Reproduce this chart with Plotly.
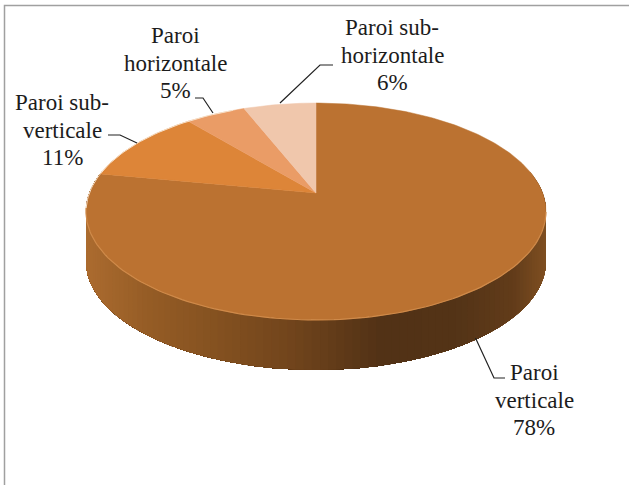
import numpy as np
import plotly.graph_objects as go

# Data
CATEGORIES = ["Paroi verticale", "Paroi sub-verticale", "Paroi horizontale", "Paroi sub-horizontale"]
VALUES = [78, 11, 5, 6]
LABEL_LINES = [["Paroi", "verticale", "78%"], ["Paroi sub-", "verticale", "11%"],
               ["Paroi", "horizontale", "5%"], ["Paroi sub-", "horizontale", "6%"]]
COLORS = ["#bb7231", "#dd8538", "#ea9c66", "#f0c7ac"]

W, H = 629, 485
CX, CY = 316, 193
A, B, K = 226.6, 105.3, 0.1705
DEPTH = 50
FONT = "Liberation Serif"
LINE_GAP = 27.5


def rim(theta):
    u, v = np.sin(theta), np.cos(theta)
    d = 1 + K * v
    return CX + A * u / d, CY - B * v / d


fig = go.Figure()

# Side wall shading: each polygon runs to the far end so no seams show
stops_x = [87, 150, 230, 300, 385, 460, 515, 547]
stops_c = [(172, 108, 48), (150, 93, 38), (130, 80, 32), (112, 68, 28),
           (82, 50, 22), (84, 52, 23), (98, 60, 26), (128, 80, 34)]
ths = np.radians(np.linspace(78, 282, 120))
for i in range(len(ths) - 1):
    tt = ths[i:]
    x, y = rim(tt)
    px = list(x) + list(x[::-1])
    py = list(y) + list((y + DEPTH)[::-1])
    xm = x[0]
    c = [int(np.interp(xm, stops_x, [s[j] for s in stops_c])) for j in range(3)]
    col = f"rgb({c[0]},{c[1]},{c[2]})"
    fig.add_trace(go.Scatter(x=px, y=py, fill="toself", fillcolor=col, mode="none",
                             hoverinfo="skip", showlegend=False))

# Top wedges, clockwise from 12 o'clock
total = sum(VALUES)
start_angle = 0.0
for val, col, name in zip(VALUES, COLORS, CATEGORIES):
    sweep = 2 * np.pi * val / total
    tt = np.linspace(start_angle, start_angle + sweep, max(8, int(val * 4)))
    x, y = rim(tt)
    fig.add_trace(go.Scatter(x=[CX] + list(x) + [CX], y=[CY] + list(y) + [CY], fill="toself",
                             fillcolor=col, mode="lines", line=dict(color=col, width=0.5),
                             name=name, hoverinfo="name", showlegend=False))
    start_angle += sweep

# Bevel highlight along the rim
tt = np.radians(np.linspace(100, 262, 120))
x, y = rim(tt)
fig.add_trace(go.Scatter(x=x, y=y, mode="lines", line=dict(color="#cf8a4a", width=1.2),
                         hoverinfo="skip", showlegend=False))
tt = np.radians(np.linspace(262, 335, 50))
x, y = rim(tt)
fig.add_trace(go.Scatter(x=x, y=y, mode="lines", line=dict(color="#f7e0c8", width=1),
                         hoverinfo="skip", showlegend=False))

# Leader lines
LEADERS = [
    ([475.5, 494, 505], [338, 378, 378]),
    ([137, 120, 108], [143, 135, 135]),
    ([213, 203, 195], [113, 98, 98]),
    ([280, 320, 333], [103, 65, 65]),
]
for lx, ly in LEADERS:
    fig.add_trace(go.Scatter(x=lx, y=ly, mode="lines", line=dict(color="#222222", width=1.2),
                             hoverinfo="skip", showlegend=False))

# Labels: centre of the middle line
LABEL_POS = [(534, 400), (62, 130), (175, 63), (392, 55)]
for lines, (tx, ty) in zip(LABEL_LINES, LABEL_POS):
    for n, line in enumerate(lines):
        fig.add_annotation(x=tx, y=ty + (n - 1) * LINE_GAP, text=line, showarrow=False,
                           xref="x", yref="y", xanchor="center", yanchor="middle",
                           font=dict(family=FONT, size=23, color="#1c1c1c"))

# Outer frame
fig.add_shape(type="rect", x0=4.5, y0=5.5, x1=640, y1=H + 20, xref="x", yref="y",
              line=dict(color="#a0a0a0", width=1.5), fillcolor="rgba(0,0,0,0)")

fig.update_layout(
    width=W, height=H, margin=dict(l=0, r=0, t=0, b=0),
    paper_bgcolor="white", plot_bgcolor="white", showlegend=False,
    xaxis=dict(range=[0, W], visible=False, fixedrange=True),
    yaxis=dict(range=[H, 0], visible=False, fixedrange=True),
)
fig.write_html("out.html", config={"displayModeBar": False},
               post_script="document.body.style.margin='0';document.documentElement.style.overflow='hidden';")
